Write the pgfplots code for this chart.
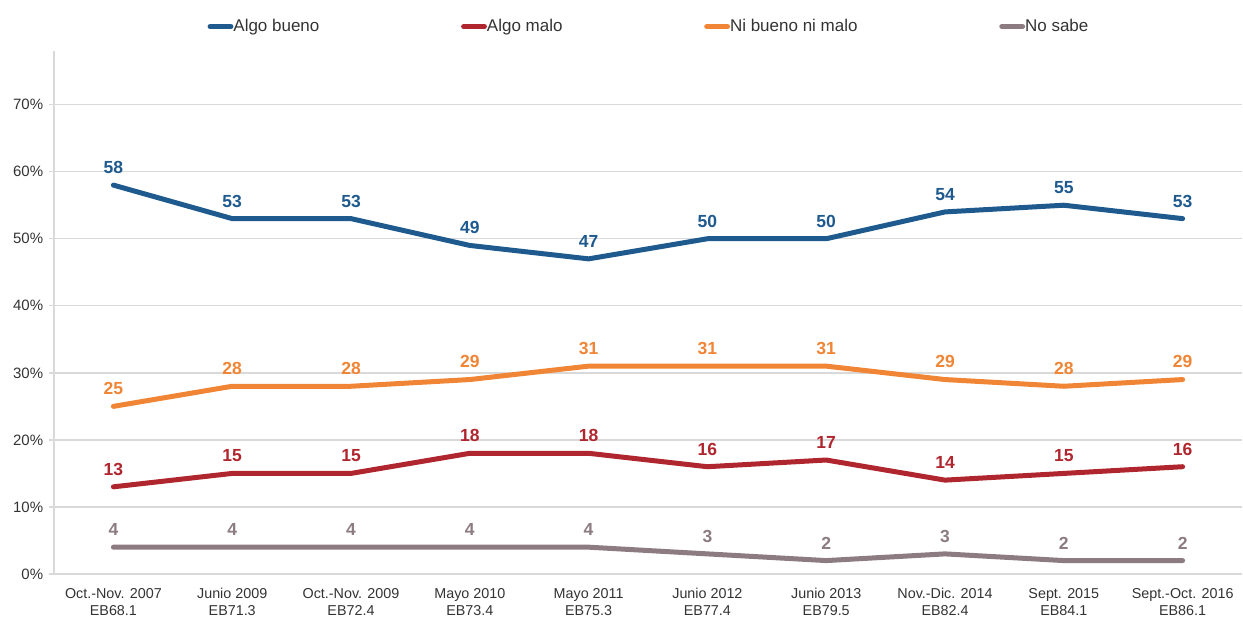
\documentclass[border=0pt]{standalone}
\usepackage{pgfplots}
\pgfplotsset{compat=1.18}
\usepackage{fontspec}
\setmainfont{Liberation Sans}
\definecolor{cblue}{HTML}{1F5A8E}
\definecolor{cred}{HTML}{B0262E}
\definecolor{corange}{HTML}{EF8535}
\definecolor{cgrey}{HTML}{8C7B80}
\definecolor{gridc}{HTML}{D9D9D9}
\definecolor{txt}{HTML}{333333}
\begin{document}
\begin{tikzpicture}
\path[use as bounding box] (-32.4pt,-27pt) rectangle (713.4pt,344.4pt);
\begin{axis}[
  at={(0,0)}, anchor=south west,
  scale only axis, width=712.8pt, height=313.8pt,
  xmin=-0.5, xmax=9.5, ymin=0, ymax=78,
  axis x line*=bottom, axis y line*=left,
  axis line style={gridc, line width=0.8pt, -},
  xtick={0,...,9},
  xticklabels={{Oct.-Nov. 2007\\EB68.1},{Junio 2009\\EB71.3},{Oct.-Nov. 2009\\EB72.4},{Mayo 2010\\EB73.4},{Mayo 2011\\EB75.3},{Junio 2012\\EB77.4},{Junio 2013\\EB79.5},{Nov.-Dic. 2014\\EB82.4},{Sept. 2015\\EB84.1},{Sept.-Oct. 2016\\EB86.1}},
  x tick label style={align=center, font=\fontsize{8.6pt}{10.2pt}\selectfont, text=txt, yshift=-2pt},
  x tick style={draw=none},
  extra x ticks={0.5,1.5,...,8.5},
  extra x tick labels={},
  extra x tick style={tick style={draw=gridc, line width=0.8pt}, major tick length=4pt, tick align=outside},
  ytick={0,10,...,70},
  yticklabel={\pgfmathprintnumber{\tick}\%},
  y tick label style={font=\fontsize{9pt}{10pt}\selectfont, text=txt},
  /pgf/number format/assume math mode=true,
  ymajorgrids, grid style={gridc, line width=0.8pt},
  y tick style={gridc, line width=0.8pt}, major tick length=3pt, tick align=outside,
  every axis plot/.append style={line width=3pt, line cap=round, line join=round, mark=none},
  nodes near coords,
  every node near coord/.append style={font=\fontsize{10.5pt}{12pt}\selectfont\bfseries, anchor=south, yshift=2pt},
  legend style={at={(0.5,1)}, anchor=south, yshift=6pt, draw=none, fill=none,
    legend columns=4, font=\fontsize{10.2pt}{12pt}\selectfont, text=txt,
    nodes={inner xsep=0pt},
    /tikz/every even column/.append style={column sep=85pt}},
  legend cell align=left,
  legend image code/.code={\draw[#1, line width=3pt, line cap=round] (0pt,0pt) -- (12.5pt,0pt);},
]
\addplot[cblue, every node near coord/.append style={text=cblue}] coordinates {(0,58)(1,53)(2,53)(3,49)(4,47)(5,50)(6,50)(7,54)(8,55)(9,53)};
\addlegendentry{Algo bueno}
\addplot[cred, every node near coord/.append style={text=cred}] coordinates {(0,13)(1,15)(2,15)(3,18)(4,18)(5,16)(6,17)(7,14)(8,15)(9,16)};
\addlegendentry{Algo malo}
\addplot[corange, every node near coord/.append style={text=corange}] coordinates {(0,25)(1,28)(2,28)(3,29)(4,31)(5,31)(6,31)(7,29)(8,28)(9,29)};
\addlegendentry{Ni bueno ni malo}
\addplot[cgrey, every node near coord/.append style={text=cgrey}] coordinates {(0,4)(1,4)(2,4)(3,4)(4,4)(5,3)(6,2)(7,3)(8,2)(9,2)};
\addlegendentry{No sabe}
\end{axis}
\end{tikzpicture}
\end{document}
